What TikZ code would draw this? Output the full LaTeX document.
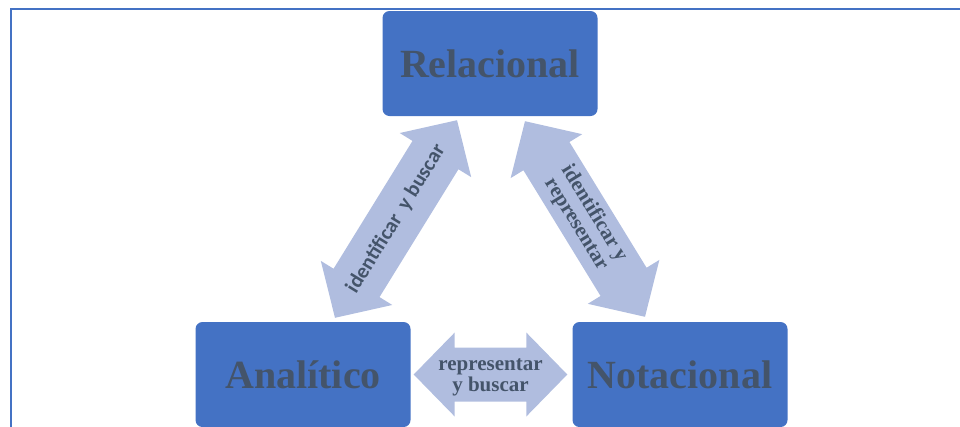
\documentclass[tikz,border=0pt]{standalone}
\usepackage{fontspec}
\setmainfont{Liberation Serif}
\newfontfamily\carlito{Carlito}
\usetikzlibrary{calc}

\definecolor{azul}{RGB}{68,114,196}
\definecolor{azulclaro}{RGB}{176,189,223}
\definecolor{pizarra}{RGB}{68,84,106}

\tikzset{
  caja/.style={fill=azul, rounded corners=7pt, minimum width=215pt,
    minimum height=105pt, text=pizarra,
    font=\fontsize{40}{40}\selectfont\bfseries},
  etiqueta/.style={text=pizarra, inner sep=0pt, align=center,
    font=\fontsize{21}{21}\selectfont\bfseries},
  % double block arrow from start to target
  flecha/.style={fill=azulclaro, to path={
      -- ($(\tikztostart)!41pt!(\tikztotarget)!42pt!90:(\tikztotarget)$)
      -- ($(\tikztostart)!41pt!(\tikztotarget)!27pt!90:(\tikztotarget)$)
      -- ($(\tikztotarget)!41pt!(\tikztostart)!27pt!-90:(\tikztostart)$)
      -- ($(\tikztotarget)!41pt!(\tikztostart)!42pt!-90:(\tikztostart)$)
      -- (\tikztotarget)
      -- ($(\tikztotarget)!41pt!(\tikztostart)!42pt!90:(\tikztostart)$)
      -- ($(\tikztotarget)!41pt!(\tikztostart)!27pt!90:(\tikztostart)$)
      -- ($(\tikztostart)!41pt!(\tikztotarget)!27pt!-90:(\tikztotarget)$)
      -- ($(\tikztostart)!41pt!(\tikztotarget)!42pt!-90:(\tikztotarget)$)
      -- cycle}}
}

\begin{document}
\begin{tikzpicture}[x=1pt,y=-1pt]
  \useasboundingbox (0,0) rectangle (960,426);
  \draw [azul, line width=2pt] (11,440) -- (11,9) -- (975,9);

  \node [caja] (rel) at (490,63.5) {Relacional};
  \node [caja] (ana) at (303,374.5) {Analítico};
  \node [caja] (nota) at (680,374.5) {Notacional};

  \coordinate (ia) at ($(ana.north)+(32,-4)$);
  \coordinate (ir) at ($(rel.south)+(-33,4)$);
  \coordinate (dr) at ($(rel.south)+(35,5)$);
  \coordinate (dn) at ($(nota.north)+(-35,-5)$);
  \coordinate (ba) at ($(ana.east)+(3,0)$);
  \coordinate (bn) at ($(nota.west)+(-5,0)$);

  \fill [flecha] (ia) to (ir);
  \fill [flecha] (dr) to (dn);
  \fill [flecha] (ba) to (bn);

  \path (ia) -- node [etiqueta, sloped, font=\carlito\fontsize{21}{21}\selectfont\bfseries] (buscar) {identificar\ \ y buscar} (ir);
  \path (dr) -- node [etiqueta, sloped] (repr) {identificar y\\representar} (dn);
  \path (ba) -- node [etiqueta, yshift=-3pt] (rybus) {representar\\y buscar} (bn);
\end{tikzpicture}
\end{document}
